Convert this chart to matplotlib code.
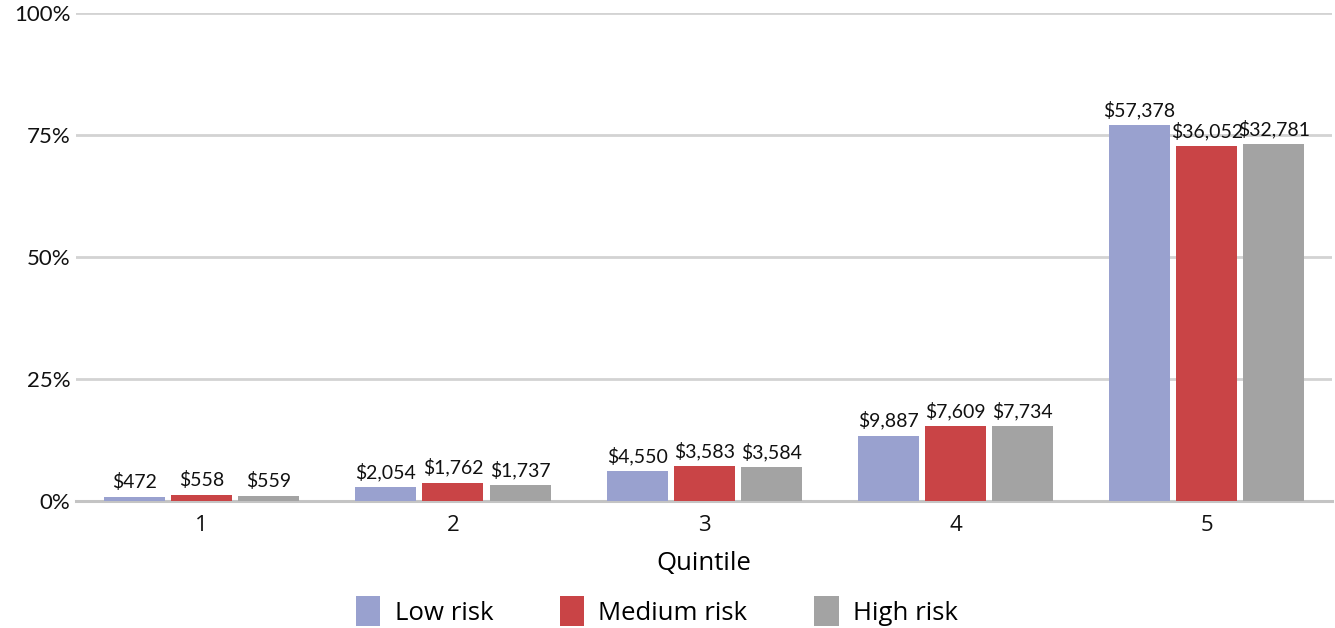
import numpy as np
import matplotlib.pyplot as plt
from matplotlib.patches import Patch

# Share of wealth per quintile, by risk group (bar heights in %)
quintiles = ["1", "2", "3", "4", "5"]
low_risk = [0.8, 2.9, 6.2, 13.4, 77.1]
medium_risk = [1.2, 3.75, 7.2, 15.4, 72.8]
high_risk = [1.0, 3.3, 7.0, 15.4, 73.2]

# dollar labels above each bar
low_labels = ["$472", "$2,054", "$4,550", "$9,887", "$57,378"]
medium_labels = ["$558", "$1,762", "$3,583", "$7,609", "$36,052"]
high_labels = ["$559", "$1,737", "$3,584", "$7,734", "$32,781"]

colors = ["#99a1cf", "#c94446", "#a3a3a3"]
names = ["Low risk", "Medium risk", "High risk"]

fig = plt.figure(figsize=(13.35, 6.28), dpi=100)
ax = fig.add_axes([0.057, 0.2022, 0.941, 0.777])

x = np.arange(len(quintiles))
width = 0.243
step = 0.267

series = [low_risk, medium_risk, high_risk]
labels = [low_labels, medium_labels, high_labels]
for i in range(3):
    pos = x + (i - 1) * step
    bars = ax.bar(pos, series[i], width, color=colors[i], zorder=3)
    for b, txt in zip(bars, labels[i]):
        ax.text(b.get_x() + b.get_width() / 2, b.get_height() + 1.2, txt,
                ha="center", va="bottom", fontsize=14, family="Lato",
                color="#111111", zorder=4)

ax.set_xlim(-0.5, 4.5)
ax.set_ylim(0, 100)
ax.set_yticks([0, 25, 50, 75, 100])
ax.set_yticklabels(["0%", "25%", "50%", "75%", "100%"], family="Lato", fontsize=16)
ax.set_xticks(x)
ax.set_xticklabels(quintiles, family="Open Sans", fontsize=16)
ax.tick_params(axis="both", length=0, colors="#111111")
ax.tick_params(axis="y", pad=4)
ax.tick_params(axis="x", pad=10)
ax.yaxis.grid(True, color="#d3d3d3", linewidth=2, zorder=0)
ax.set_axisbelow(True)
for s in ["top", "right", "left"]:
    ax.spines[s].set_visible(False)
ax.spines["bottom"].set_color("#c4c4c4")
ax.spines["bottom"].set_linewidth(2.2)
ax.set_xlabel("Quintile", family="Open Sans", fontsize=18.5, labelpad=11)

handles = [Patch(facecolor=c, edgecolor="none") for c in colors]
fig.legend(handles, names, loc="center", bbox_to_anchor=(0.492, 0.027), ncol=3,
           frameon=False, prop={"family": "Open Sans", "size": 18.5},
           handlelength=0.95, handleheight=1.4, handletextpad=0.55, columnspacing=2.6)

fig.savefig("out.png", dpi=100)
